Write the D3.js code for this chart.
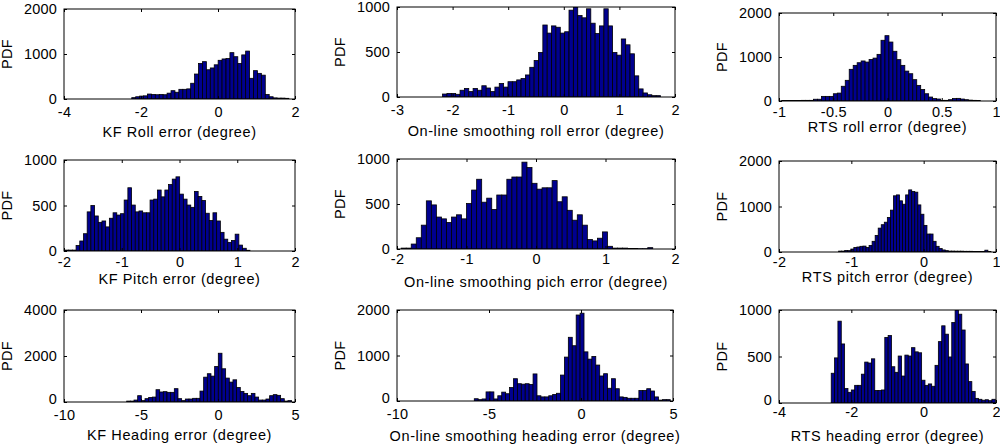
<!DOCTYPE html>
<html>
<head>
<meta charset="utf-8">
<script src="https://cdnjs.cloudflare.com/ajax/libs/d3/7.8.5/d3.min.js"></script>
<style>
  body { margin: 0; background: #fff; }
  svg text { font-family: "Liberation Sans", Arial, sans-serif; fill: #000; }
</style>
</head>
<body>
<svg id="chart" width="1000" height="446"></svg>
<script>
// histogram counts, left bin edge to right bin edge
var kfRoll = [30,50,65,70,110,100,95,100,95,130,185,150,215,215,225,350,555,790,830,650,
  690,760,860,890,900,1030,940,790,980,1065,460,630,570,530,100,50,25,20,20,15];
var kfRollRange = [-2.24, 1.84];

var olRoll = [33,40,40,30,75,95,60,95,75,125,100,60,110,150,110,170,170,190,205,245,
  330,405,495,800,710,790,775,710,725,965,1000,905,880,980,820,705,790,980,790,495,
  465,645,580,480,235,90,45,25,15,15];
var olRollRange = [-2.18, 1.74];

var rtsRoll = [12,12,12,12,12,15,15,15,40,40,105,105,105,165,180,335,470,720,810,870,
  910,885,945,975,1060,1380,1485,1340,1130,940,810,680,620,485,355,260,165,90,55,45,
  15,15,30,55,60,45,30,20,15,10];
var rtsRollRange = [-0.975, 0.855];

var kfPitch = [10,10,10,60,110,190,430,500,385,315,330,265,360,420,395,410,560,695,505,430,
  440,420,420,560,570,670,595,670,730,790,815,625,570,505,480,655,600,555,415,335,
  420,330,205,130,95,115,185,65,30,8];
var kfPitchRange = [-1.983, 1.22];

var olPitch = [10,10,55,125,265,535,490,355,335,295,355,380,335,505,655,775,520,565,440,600,
  600,775,800,800,965,905,730,665,680,680,760,525,580,430,320,380,265,105,90,120,
  190,30,10,10,10,5,5,3,3,15];
var olPitchRange = [-1.94, 1.68];

var rtsPitch = [20,20,35,30,65,100,110,125,130,100,145,235,365,525,600,655,760,920,1235,1255,
  1125,1050,1255,1365,1330,1315,1035,830,585,395,395,235,125,75,45,30,20,20,18,18,
  18,15,15,15,10,10,10,10,40,10];
var rtsPitchRange = [-1.176, 0.93];

var kfHeading = [40,40,85,275,60,145,200,215,535,435,450,420,420,580,145,60,130,130,160,160,
  475,1080,1230,1125,1545,2120,1445,1040,865,965,635,460,375,275,375,215,85,85,130,275,
  320,290,145,40,60];
var kfHeadingRange = [-5.93, 4.78];

var olHeading = [50,30,45,200,200,45,115,195,160,295,490,380,370,380,365,595,115,90,90,115,
  145,170,570,965,1400,1215,1890,1930,1080,920,980,790,550,600,280,490,270,90,80,60,
  60,60,230,230,270,220,90,20,30,30];
var olHeadingRange = [-5.8, 4.85];

var rtsHeading = [320,485,880,635,155,115,140,190,190,310,440,430,475,135,135,140,705,725,390,330,
  505,290,515,505,595,550,540,245,190,205,180,405,660,830,740,495,865,1000,955,785,
  420,230,125,50,40,30,35,25,40];
var rtsHeadingRange = [-2.556, 1.98];

var xLabels = [
  'KF Roll error (degree)', 'On-line smoothing roll error (degree)', 'RTS roll error (degree)',
  'KF Pitch error (degree)', 'On-line smoothing pich error (degree)', 'RTS pitch error (degree)',
  'KF Heading error (degree)', 'On-line smoothing heading error (degree)', 'RTS heading error (degree)'
];
var xDomains = [[-4,2],[-3,2],[-1,1],[-2,2],[-2,2],[-2,1],[-10,5],[-10,5],[-4,2]];
var yDomains = [[0,2000],[0,1000],[0,2000],[0,1000],[0,1000],[0,2000],[0,4000],[0,2000],[0,1000]];
var xTicks = [[-4,-2,0,2],[-3,-2,-1,0,1,2],[-1,-0.5,0,0.5,1],[-2,-1,0,1,2],[-2,-1,0,1,2],
  [-2,-1,0,1],[-10,-5,0,5],[-10,-5,0,5],[-4,-2,0,2]];
var yTicks = [[0,1000,2000],[0,500,1000],[0,1000,2000],[0,500,1000],[0,500,1000],
  [0,1000,2000],[0,2000,4000],[0,1000,2000],[0,500,1000]];

var series = [kfRoll, olRoll, rtsRoll, kfPitch, olPitch, rtsPitch, kfHeading, olHeading, rtsHeading];
var ranges = [kfRollRange, olRollRange, rtsRollRange, kfPitchRange, olPitchRange, rtsPitchRange,
  kfHeadingRange, olHeadingRange, rtsHeadingRange];

// axes boxes in page pixels [left, top, right, bottom]
var boxes = [
  [64, 9, 295, 99], [397, 7, 675, 97], [779, 13, 996, 101],
  [64, 160, 295, 251], [397, 159, 675, 249], [779, 161, 996, 252],
  [64, 310, 295, 402], [397, 310, 673, 401], [779, 310, 996, 403]
];
// gap from box bottom to tick label tops and to x label baseline
var tickGap = [8, 8, 6, 6, 5, 5, 8, 8, 4];
var labelGap = [38, 39, 31, 33, 38, 30, 38, 40, 38];

var svg = d3.select('#chart');
var fmt = function(d){ return String(d); };

series.forEach(function(values, p){
  var b = boxes[p];
  var w = b[2] - b[0], h = b[3] - b[1];
  var g = svg.append('g').attr('transform', 'translate(' + b[0] + ',' + b[1] + ')');

  var x = d3.scaleLinear().domain(xDomains[p]).range([0, w]);
  var y = d3.scaleLinear().domain(yDomains[p]).range([h, 0]);

  var r = ranges[p];
  var bw = (r[1] - r[0]) / values.length;
  var bins = values.map(function(v, i){
    return { x0: r[0] + i * bw, x1: r[0] + (i + 1) * bw, n: v };
  });

  g.append('clipPath').attr('id', 'clip' + p)
    .append('rect').attr('width', w).attr('height', h);

  g.append('g').attr('clip-path', 'url(#clip' + p + ')')
    .selectAll('rect').data(bins).enter().append('rect')
    .attr('x', function(d){ return x(d.x0); })
    .attr('width', function(d){ return x(d.x1) - x(d.x0); })
    .attr('y', function(d){ return y(d.n); })
    .attr('height', function(d){ return h - y(d.n); })
    .attr('fill', '#00008f')
    .attr('stroke', '#000')
    .attr('stroke-width', 0.8);

  var bottom = g.append('g').attr('transform', 'translate(0,' + h + ')')
    .call(d3.axisBottom(x).tickValues(xTicks[p]).tickFormat(fmt).tickSizeInner(-3).tickSizeOuter(0).tickPadding(tickGap[p]));
  var top = g.append('g')
    .call(d3.axisTop(x).tickValues(xTicks[p]).tickFormat('').tickSizeInner(-3).tickSizeOuter(0));
  var left = g.append('g')
    .call(d3.axisLeft(y).tickValues(yTicks[p]).tickFormat(fmt).tickSizeInner(-3).tickSizeOuter(0).tickPadding(7));
  var right = g.append('g').attr('transform', 'translate(' + w + ',0)')
    .call(d3.axisRight(y).tickValues(yTicks[p]).tickFormat('').tickSizeInner(-3).tickSizeOuter(0));

  [bottom, top, left, right].forEach(function(a){
    a.select('.domain').remove();
    a.selectAll('text').attr('font-size', 14.5).attr('font-family', null)
      .style('letter-spacing', '0.2px');
    a.selectAll('line').attr('stroke', '#000');
  });

  // bottom row: lift the "0" a touch so it clears the first x tick label
  if (p >= 6) {
    left.selectAll('text').filter(function(d){ return d === 0; }).attr('dy', '0.1em');
  }

  g.append('rect').attr('width', w).attr('height', h)
    .attr('fill', 'none').attr('stroke', '#000').attr('stroke-width', 1);

  g.append('text')
    .attr('x', w / 2)
    .attr('y', h + labelGap[p])
    .attr('text-anchor', 'middle')
    .attr('font-size', 14.5)
    .style('letter-spacing', '0.6px')
    .text(xLabels[p]);

  g.append('text')
    .attr('transform', 'translate(-52,' + (h / 2) + ') rotate(-90)')
    .attr('text-anchor', 'middle')
    .attr('font-size', 14.5)
    .style('letter-spacing', '0.4px')
    .text('PDF');
});
</script>
</body>
</html>
